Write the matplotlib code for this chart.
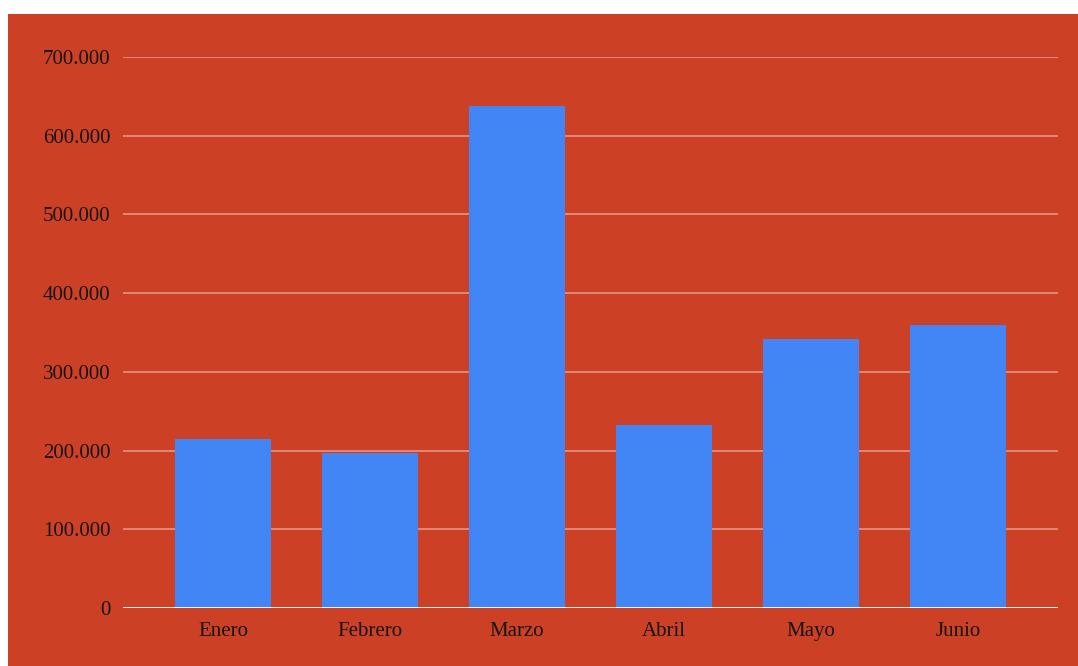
import matplotlib
matplotlib.use("Agg")
import matplotlib.pyplot as plt
from matplotlib.patches import Rectangle
from matplotlib.ticker import FuncFormatter

meses = ["Enero", "Febrero", "Marzo", "Abril", "Mayo", "Junio"]
ventas = [215000, 197000, 638000, 232000, 342000, 360000]
ticks_y = [0, 100000, 200000, 300000, 400000, 500000, 600000, 700000]

fondo = "#cc4125"
azul = "#4285f4"

plt.rcParams['font.family'] = ['Liberation Serif', 'DejaVu Serif']

W, H = 1078, 666
fig = plt.figure(figsize=(W / 100, H / 100), dpi=100)
fig.patch.set_facecolor("white")
# zona roja del gráfico, por debajo de los ejes
fig.patches.append(Rectangle((8 / W, 0), 1 - 8 / W, 1 - 14 / H,
                             transform=fig.transFigure, facecolor=fondo,
                             edgecolor="none", zorder=-10))

ax = fig.add_axes([123 / W, (H - 608) / H, 935 / W, 551 / H])
ax.set_facecolor("none")

x = range(len(meses))
ax.bar(x, ventas, width=0.65, color=azul, zorder=3)

ax.set_xlim(-0.68, len(meses) - 1 + 0.68)
ax.set_ylim(0, 700000)
ax.set_yticks(ticks_y)
ax.yaxis.set_major_formatter(FuncFormatter(lambda v, p: f"{int(v):,}".replace(",", ".")))
ax.set_xticks(list(x))
ax.set_xticklabels(meses, va="baseline")

ax.grid(axis="y", color="#e39584", linewidth=1.2, zorder=1)
ax.axhline(0, color="white", linewidth=2, zorder=4)
for s in ax.spines.values():
    s.set_visible(False)
ax.tick_params(axis="both", length=0, labelsize=15, colors="#151515")
ax.tick_params(axis="y", pad=9)
ax.tick_params(axis="x", pad=20.5)

fig.savefig("out.png", dpi=100, facecolor=fig.get_facecolor())
